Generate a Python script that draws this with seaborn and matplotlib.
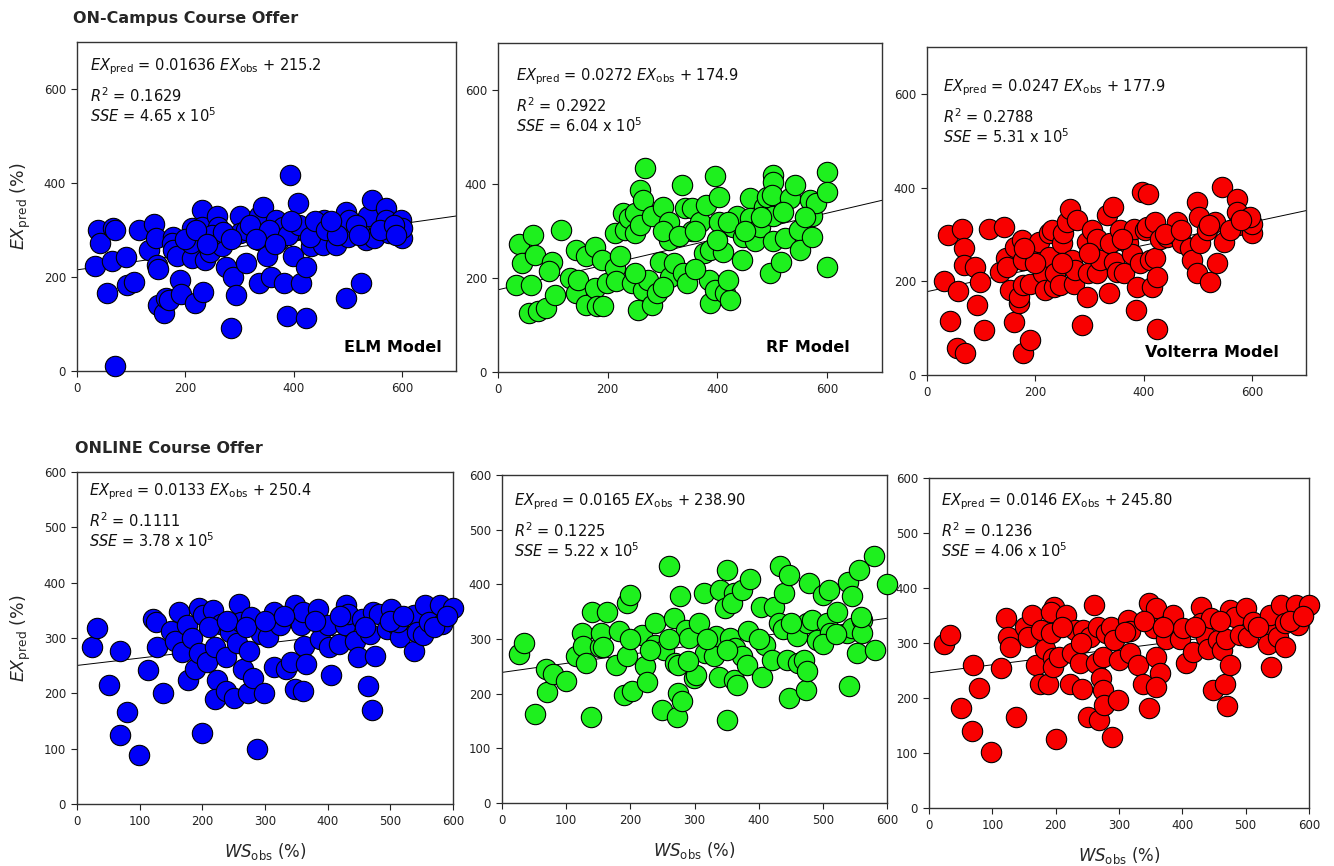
import matplotlib
matplotlib.use("Agg")
import matplotlib.pyplot as plt
import numpy as np
import pandas as pd
import seaborn as sns

# ---------------- data ----------------
elm_campus = [(39,300),(43,272),(33,224),(64,233),(66,304),(71,299),(56,165),(71,11),(91,242),(93,183),
    (105,190),(115,299),(133,258),(142,313),(146,283),(148,226),(150,217),(150,141),(160,123),(164,155),
    (169,151),(177,286),(175,272),(178,258),(184,244),(190,194),(193,164),(212,240),(210,272),(212,304),
    (218,144),(230,343),(230,307),(233,169),(236,237),(245,254),(258,329),(261,307),(267,265),(276,222),
    (284,91),(288,201),(294,162),(301,329),(301,293),(313,300),(313,229),(337,329),(343,349),(337,279),
    (337,187),(350,244),(359,201),(368,322),(374,279),(380,307),(383,187),(387,116),(394,416),(399,244),
    (408,357),(405,300),(414,187),(423,112),(423,222),(420,300),(433,265),(445,300),(457,322),(454,268),
    (469,297),(479,268),(497,339),(500,286),(503,322),(497,155),(521,300),(524,187),(534,279),(537,329),
    (545,364),(549,283),(570,347),(570,322),(577,293),(598,322),(601,283),(601,304),
    (250,290),(270,295),(285,280),(320,310),(355,300),(390,290),(410,310),(430,285),(440,320),(460,300),
    (480,290),(515,310),(560,300),(585,310),(590,290),(200,280),(220,300),(240,270),(330,280),(365,270),
    (395,320),(470,320),(520,290)]

rf_campus = [(38,272),(43,232),(32,186),(64,292),(68,249),(61,186),(57,125),(73,129),(88,136),(99,235),
    (93,214),(104,164),(114,302),(131,200),(142,260),(142,168),(146,196),(160,246),(161,143),(177,267),
    (177,178),(180,140),(189,239),(192,140),(198,189),(213,295),(213,221),(216,193),(222,246),(228,338),
    (231,302),(238,327),(244,189),(250,295),(250,338),(256,132),(259,387),(265,366),(268,433),(259,313),
    (265,175),(274,196),(280,143),(280,331),(289,168),(295,235),(301,352),(311,320),(312,281),(314,203),
    (320,232),(335,398),(338,210),(341,349),(344,189),(353,299),(353,349),(368,320),(375,253),(380,356),
    (384,196),(387,260),(387,146),(396,416),(396,175),(402,373),(402,320),(411,256),(414,168),(423,154),
    (420,196),(429,309),(435,331),(445,239),(447,288),(459,370),(459,327),(469,278),(478,309),(484,352),
    (490,373),(496,210),(502,419),(502,405),(499,377),(502,331),(502,278),(515,235),(524,285),(533,370),
    (542,398),(548,302),(551,260),(569,366),(573,331),(573,288),(579,359),(599,426),(599,384),(600,224),
    (300,300),(330,290),(360,300),(400,280),(420,320),(450,300),(480,330),(520,340),(560,330),(250,210),
    (360,220),(300,180)]

volterra_campus = [(38,298),(31,200),(43,116),(58,180),(55,57),(71,46),(65,312),(68,270),(68,234),(89,231),
    (92,149),(98,199),(105,96),(114,312),(142,316),(135,220),(145,249),(148,231),(154,181),(160,114),
    (163,273),(169,153),(169,167),(177,46),(175,288),(178,245),(177,192),(191,75),(191,195),(200,256),
    (206,284),(215,217),(218,181),(225,252),(226,302),(231,309),(234,188),(237,217),(246,192),(249,281),
    (252,302),(258,327),(265,355),(268,245),(271,195),(274,224),(277,330),(286,107),(295,284),(295,167),
    (298,217),(305,309),(314,291),(314,217),(320,245),(332,341),(337,174),(338,281),(343,359),(345,242),
    (351,220),(357,309),(363,217),(369,288),(372,281),(378,259),(382,312),(386,138),(388,188),(394,238),
    (397,391),(409,387),(403,309),(406,316),(412,245),(415,188),(422,327),(422,249),(425,99),(425,210),
    (431,291),(443,295),(455,302),(462,327),(471,281),(486,270),(489,245),(498,217),(498,369),(502,337),
    (505,281),(517,309),(523,199),(532,327),(535,238),(545,401),(548,284),(572,376),(572,348),(575,320),
    (600,302),(600,323),(597,337),
    (440,300),(470,310),(520,320),(560,310),(580,330),(360,290),(300,260),(250,240),(200,240),(180,270)]

elm_online = [(24,284),(32,318),(51,215),(69,277),(69,125),(79,166),(99,88),(114,242),(122,334),(126,329),
    (128,283),(137,201),(150,312),(157,295),(162,347),(168,274),(176,323),(177,225),(183,300),(189,244),
    (194,354),(194,273),(201,341),(200,128),(208,256),(217,350),(221,283),(223,225),(221,189),(229,326),
    (238,265),(238,204),(244,311),(250,192),(255,291),(259,362),(262,329),(265,244),(273,201),(275,277),
    (278,338),(281,228),(288,100),(293,308),(299,201),(305,301),(314,347),(314,247),(324,323),(333,244),
    (342,256),(348,359),(348,207),(357,323),(360,204),(363,286),(366,253),(360,347),(384,353),(388,298),
    (400,323),(402,283),(406,234),(418,290),(427,323),(430,359),(433,344),(443,294),(449,265),(455,335),
    (465,213),(468,308),(471,169),(473,347),(475,268),(482,344),(494,317),(501,353),(510,323),(516,302),
    (513,329),(537,341),(538,277),(543,311),(552,305),(556,359),(562,329),(583,326),(580,359),(600,354),
    (210,320),(240,330),(270,320),(300,330),(330,340),(380,330),(420,340),(460,320),(500,330),(520,340),
    (570,320),(590,340)]

rf_online = [(27,273),(35,292),(52,163),(68,245),(70,203),(80,236),(100,224),(116,268),(124,311),(126,288),
    (131,256),(140,350),(139,158),(152,286),(154,311),(163,350),(177,253),(182,314),(158,286),(190,198),
    (195,365),(199,381),(195,268),(203,204),(218,308),(223,250),(226,222),(239,329),(239,289),(252,280),
    (250,171),(261,434),(268,338),(270,256),(272,157),(275,253),(275,201),(277,379),(280,186),(286,317),
    (292,301),(299,228),(303,234),(307,329),(315,385),(317,274),(330,268),(333,305),(338,231),(340,390),
    (350,426),(348,356),(351,152),(356,301),(361,384),(358,365),(361,225),(363,283),(366,216),(374,268),
    (382,253),(374,390),(384,314),(387,410),(403,359),(405,231),(410,289),(421,262),(424,359),(431,329),
    (433,434),(438,318),(439,384),(444,262),(448,417),(448,192),(460,305),(462,256),(470,262),(473,207),
    (476,241),(478,402),(476,329),(483,335),(491,298),(501,381),(509,390),(506,329),(511,311),(522,350),
    (538,311),(539,405),(540,214),(545,378),(545,320),(553,275),(556,426),(561,335),(561,311),(580,451),
    (582,280),(600,401),
    (200,300),(230,280),(260,300),(290,260),(320,300),(350,280),(400,300),(450,330),(500,290),(520,310),
    (560,340)]

volterra_online = [(24,299),(33,315),(50,181),(68,140),(69,260),(79,219),(98,102),(113,255),(122,345),(125,311),
    (128,293),(137,166),(151,330),(156,311),(163,351),(169,260),(175,226),(177,324),(183,290),(188,226),
    (193,318),(196,272),(196,257),(198,366),(193,357),(201,126),(206,275),(217,351),(222,226),(225,281),
    (230,324),(238,263),(241,217),(243,324),(251,166),(254,311),(261,369),(264,263),(267,330),(269,160),
    (272,236),(275,214),(275,275),(277,187),(280,318),(288,330),(289,129),(292,305),(298,196),(300,269),
    (314,342),(317,321),(317,281),(330,260),(338,226),(348,372),(348,181),(358,363),(356,327),(359,275),
    (364,245),(359,220),(374,308),(385,351),(396,308),(401,327),(405,263),(417,284),(430,366),(430,336),
    (438,311),(441,290),(446,345),(448,214),(456,305),(462,287),(467,226),(469,308),(471,185),(475,360),
    (475,260),(483,348),(491,315),(500,363),(504,311),(512,339),(533,330),(535,299),(538,351),(540,257),
    (551,311),(556,369),(562,336),(562,293),(580,369),(583,333),(600,369),
    (210,330),(240,300),(310,320),(340,340),(370,330),(420,330),(460,340),(520,330),(570,340),(590,350)]

# regression coefficients (slope as drawn, intercept)
fit_slopes = [0.1636, 0.272, 0.247, 0.133, 0.165, 0.146]
fit_intercepts = [215.2, 174.9, 177.9, 250.4, 238.9, 245.8]

eq_texts = [
    r"$\mathit{EX}_{\mathrm{pred}}$ = 0.01636 $\mathit{EX}_{\mathrm{obs}}$ + 215.2",
    r"$\mathit{EX}_{\mathrm{pred}}$ = 0.0272 $\mathit{EX}_{\mathrm{obs}}$ + 174.9",
    r"$\mathit{EX}_{\mathrm{pred}}$ = 0.0247 $\mathit{EX}_{\mathrm{obs}}$ + 177.9",
    r"$\mathit{EX}_{\mathrm{pred}}$ = 0.0133 $\mathit{EX}_{\mathrm{obs}}$ + 250.4",
    r"$\mathit{EX}_{\mathrm{pred}}$ = 0.0165 $\mathit{EX}_{\mathrm{obs}}$ + 238.90",
    r"$\mathit{EX}_{\mathrm{pred}}$ = 0.0146 $\mathit{EX}_{\mathrm{obs}}$ + 245.80",
]
r2_texts = ["0.1629", "0.2922", "0.2788", "0.1111", "0.1225", "0.1236"]
sse_texts = ["4.65", "6.04", "5.31", "3.78", "5.22", "4.06"]
model_labels = ["ELM Model", "RF Model", "Volterra Model", "", "", ""]
row_titles = ["ON-Campus Course Offer", "ONLINE Course Offer"]

# ---------------- layout / style ----------------
sns.set_style("white")
plt.rcParams['font.family'] = ['DejaVu Sans']
plt.rcParams['mathtext.fontset'] = 'dejavusans'

W, H = 1334, 866
fig = plt.figure(figsize=(W / 100, H / 100), dpi=100)

def rect(x0, y0, x1, y1):
    return [x0 / W, 1 - y1 / H, (x1 - x0) / W, (y1 - y0) / H]

rects = [rect(77, 42, 456, 371), rect(498, 43, 882, 372), rect(927, 47, 1306, 375),
         rect(77, 472, 453, 804), rect(502, 475, 887, 803), rect(929, 478, 1309, 808)]
datasets = [elm_campus, rf_campus, volterra_campus, elm_online, rf_online, volterra_online]
colors = ["#0000f8", "#1ef01e", "#f80000", "#0000f8", "#1ef01e", "#f80000"]
text_pos = [(0.033, 0.075), (0.047, 0.103), (0.042, 0.125),
            (0.032, 0.06), (0.031, 0.082), (0.032, 0.073)]
label_pos = [(0.963, 0.07), (0.917, 0.073), (0.929, 0.07)]

for i in range(6):
    ax = fig.add_axes(rects[i])
    df = pd.DataFrame(datasets[i], columns=["obs", "pred"])
    top = i < 3
    lim = 700 if top else 600
    xs = np.array([0, lim])
    sns.lineplot(x=xs, y=fit_intercepts[i] + fit_slopes[i] * xs, ax=ax,
                 color="black", linewidth=0.7, zorder=1)
    sns.scatterplot(data=df, x="obs", y="pred", ax=ax, color=colors[i], s=215,
                    edgecolor="black", linewidth=0.8, zorder=3, clip_on=False, legend=False)
    ax.set_xlim(0, lim)
    ax.set_ylim(0, lim)
    if top:
        ax.set_xticks([0, 200, 400, 600])
        ax.set_yticks([0, 200, 400, 600])
    else:
        ax.set_xticks(range(0, 601, 100))
        ax.set_yticks(range(0, 601, 100))
    ax.tick_params(direction="out", length=4, width=0.8, labelsize=8.5,
                   colors="#222222", pad=4, bottom=True, left=True)
    for sp in ax.spines.values():
        sp.set_visible(True)
        sp.set_color("#333333")
        sp.set_linewidth(1.0)
    ax.set_xlabel("")
    ax.set_ylabel("")
    tx, ty = text_pos[i]
    ax.text(tx, 1 - ty, eq_texts[i], transform=ax.transAxes, fontsize=10.5,
            ha="left", va="center", color="#111111")
    ax.text(tx, 1 - ty - 0.088, r"$\mathit{R}^2$ = " + r2_texts[i], transform=ax.transAxes,
            fontsize=10.5, ha="left", va="center", color="#111111")
    ax.text(tx, 1 - ty - 0.148, r"$\mathit{SSE}$ = " + sse_texts[i] + r" x 10$^5$",
            transform=ax.transAxes, fontsize=10.5, ha="left", va="center", color="#111111")
    if model_labels[i]:
        lx, ly = label_pos[i]
        ax.text(lx, ly, model_labels[i], transform=ax.transAxes, fontsize=11.5,
                fontweight="bold", ha="right", va="center", color="black")
    if i in (0, 3):
        ax.set_ylabel(r"$\mathit{EX}_{\mathrm{pred}}$ (%)", fontsize=12.5, labelpad=8)
    if not top:
        ax.set_xlabel(r"$\mathit{WS}_{\mathrm{obs}}$ (%)", fontsize=12, labelpad=9)

fig.text(73 / W, 1 - 18 / H, row_titles[0], fontsize=11.5, fontweight="heavy",
         ha="left", va="center")
fig.text(75 / W, 1 - 449 / H, row_titles[1], fontsize=11.5, fontweight="heavy",
         ha="left", va="center")

fig.savefig("out.png", dpi=100)
